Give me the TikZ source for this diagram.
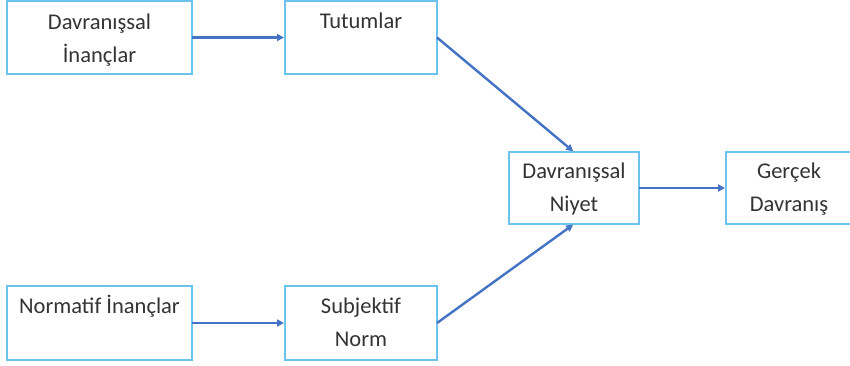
\documentclass[tikz,border=0pt]{standalone}
\usepackage{fontspec}
\setmainfont{Carlito}
\usetikzlibrary{arrows.meta}
\definecolor{boxline}{HTML}{6CC4EE}
\definecolor{arrowc}{HTML}{4472C4}
\definecolor{txt}{HTML}{333333}
\tikzset{
  box/.style={draw=boxline, line width=1.4pt, fill=white, inner sep=0pt, outer sep=0pt},
  lbl/.style={anchor=north, align=center, inner sep=0pt, text=txt, font=\fontsize{22.5}{33}\selectfont},
  conn/.style={draw=arrowc, line width=2.4pt, -{Triangle[length=7pt,width=7pt]}, shorten >=1pt}
}
\begin{document}
\begin{tikzpicture}[x=1pt,y=-1pt]
\useasboundingbox (0,0) rectangle (850,365);
% boxes
\node[box, minimum width=185pt, minimum height=73pt, anchor=north west] (b1) at (7,1) {};
\node[box, minimum width=152pt, minimum height=73pt, anchor=north west] (b2) at (285,1) {};
\node[box, minimum width=130pt, minimum height=72pt, anchor=north west] (b3) at (509,152) {};
\node[box, minimum width=126pt, minimum height=72pt, anchor=north west] (b4) at (726,152) {};
\node[box, minimum width=185pt, minimum height=74pt, anchor=north west] (b5) at (7,286) {};
\node[box, minimum width=152pt, minimum height=74pt, anchor=north west] (b6) at (285,286) {};
% labels
\node[lbl] (t1) at ([yshift=-13pt]b1.north) {Davranışsal\\İnançlar};
\node[lbl] (t2) at ([yshift=-12pt]b2.north) {Tutumlar};
\node[lbl] (t3) at ([yshift=-11pt]b3.north) {Davranışsal\\Niyet};
\node[lbl] (t4) at ([yshift=-11pt]b4.north) {Gerçek\\Davranış};
\node[lbl] (t5) at ([yshift=-9pt]b5.north) {Normatif İnançlar};
\node[lbl] (t6) at ([yshift=-12pt]b6.north) {Subjektif\\Norm};
% connectors
\draw[conn] (b1.east) -- (b2.west);
\draw[conn] (b5.east) -- (b6.west);
\draw[conn] (b2.east) -- (b3.north);
\draw[conn] (b6.east) -- (b3.south);
\draw[conn] (b3.east) -- (b4.west);
\end{tikzpicture}
\end{document}
